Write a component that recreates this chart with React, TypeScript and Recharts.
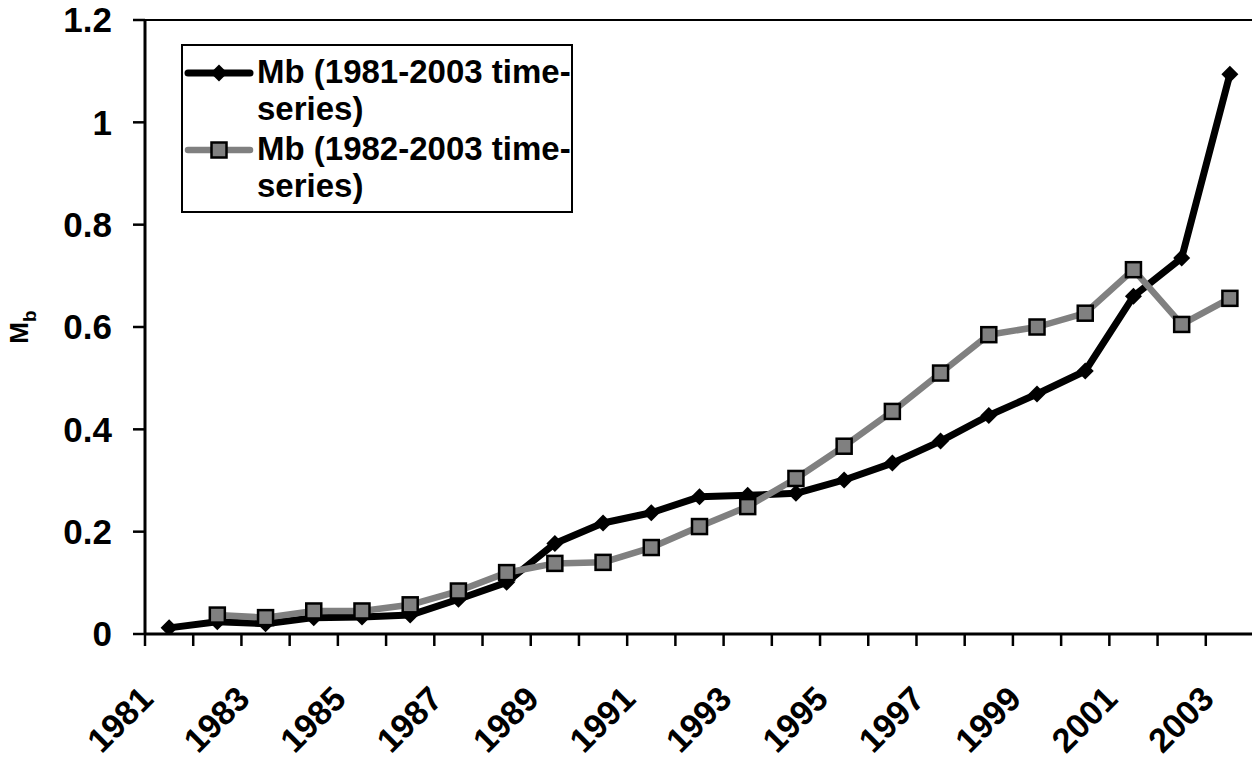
import React from "react";
import { LineChart, Line, XAxis, YAxis, Legend, ReferenceLine } from "recharts";

const FONT = "'Liberation Sans', Arial, Helvetica, sans-serif";

const years = [1981, 1982, 1983, 1984, 1985, 1986, 1987, 1988, 1989, 1990, 1991, 1992, 1993, 1994, 1995, 1996, 1997, 1998, 1999, 2000, 2001, 2002, 2003];
// Mb, 1981-2003 time-series
const mb1981Series = [0.012, 0.024, 0.02, 0.032, 0.033, 0.037, 0.068, 0.101, 0.177, 0.217, 0.237, 0.268, 0.271, 0.275, 0.301, 0.334, 0.377, 0.427, 0.469, 0.514, 0.66, 0.735, 1.094];
// Mb, 1982-2003 time-series (first value is 1982)
const mb1982Series = [0.037, 0.032, 0.045, 0.045, 0.057, 0.084, 0.12, 0.138, 0.14, 0.169, 0.21, 0.249, 0.304, 0.367, 0.435, 0.51, 0.585, 0.6, 0.627, 0.712, 0.605, 0.656];

const yTicks = [0, 0.2, 0.4, 0.6, 0.8, 1, 1.2];
const labelYears = [1981, 1983, 1985, 1987, 1989, 1991, 1993, 1995, 1997, 1999, 2001, 2003];
const boundaryTicks = [...years.map((y) => y - 0.5), 2003.5];

const legendLines1 = ["Mb (1981-2003 time-", "series)"];
const legendLines2 = ["Mb (1982-2003 time-", "series)"];

const data = years.map((year, i) => ({
  year,
  s81: mb1981Series[i],
  s82: i === 0 ? null : mb1982Series[i - 1],
}));

const GRAY = "#808080";

const diamondPath = (cx: number, cy: number, r: number) =>
  `M${cx},${cy - r} L${cx + r},${cy} L${cx},${cy + r} L${cx - r},${cy} Z`;

const DiamondDot = (props: any) => {
  const { cx, cy, index } = props;
  if (cx == null || cy == null) return <g key={`d-${index}`} />;
  return <path key={`d-${index}`} d={diamondPath(cx, cy, 8.5)} fill="#000" />;
};

const SquareDot = (props: any) => {
  const { cx, cy, index, value } = props;
  if (cx == null || cy == null || value == null) return <g key={`s-${index}`} />;
  return (
    <rect key={`s-${index}`} x={cx - 7.5} y={cy - 7.5} width={15} height={15} fill={GRAY} stroke="#000" strokeWidth={2.5} />
  );
};

const EmptyTick = () => <g />;

const YearTick = (props: any) => {
  const { x, y, payload } = props;
  return (
    <g transform={`translate(${x - 14},${y + 66})`}>
      <text x={0} y={0} textAnchor="end" transform="rotate(-45)" fontSize={34} fontWeight="bold" fontFamily={FONT} fill="#000">
        {payload.value}
      </text>
    </g>
  );
};

const YLabel = (props: any) => {
  const vb = props.viewBox || { x: 0, y: 20, width: 145, height: 614 };
  const cx = vb.x + 28;
  const cy = vb.y + vb.height / 2;
  return (
    <text x={cx} y={cy} transform={`rotate(-90, ${cx}, ${cy})`} textAnchor="middle" fontFamily={FONT} fontWeight="bold" fontSize={26} fill="#000">
      M<tspan fontSize={19} dy={8}>b</tspan>
    </text>
  );
};

const LegendBox = () => {
  const entry = (lines: string[], top: number, kind: "black" | "gray") => (
    <g key={kind}>
      <line x1={7} x2={69} y1={top} y2={top} stroke={kind === "black" ? "#000" : GRAY} strokeWidth={kind === "black" ? 7 : 6.5} strokeLinecap="round" />
      {kind === "black" ? (
        <path d={diamondPath(38, top, 8.5)} fill="#000" />
      ) : (
        <rect x={30.5} y={top - 7.5} width={15} height={15} fill={GRAY} stroke="#000" strokeWidth={2.5} />
      )}
      {lines.map((t, i) => (
        <text key={i} x={76} y={top + 10 + i * 37} fontFamily={FONT} fontWeight="bold" fontSize={33} fill="#000">
          {t}
        </text>
      ))}
    </g>
  );
  return (
    <svg width={392} height={169} style={{ display: "block" }}>
      <rect x={1} y={1} width={390} height={167} fill="#fff" stroke="#000" strokeWidth={2} />
      {entry(legendLines1, 29, "black")}
      {entry(legendLines2, 106, "gray")}
    </svg>
  );
};

export default function App() {
  return (
    <div style={{ position: "absolute", left: 0, top: 0, width: 1252, height: 763, overflow: "hidden", background: "#fff" }}>
      <LineChart width={1262} height={763} data={data} margin={{ top: 20, right: 8, bottom: 127, left: 0 }}>
        <XAxis
          xAxisId={0}
          dataKey="year"
          type="number"
          domain={[1980.5, 2003.5]}
          ticks={boundaryTicks}
          interval={0}
          tick={<EmptyTick />}
          height={1}
          tickSize={12}
          axisLine={{ stroke: "#000", strokeWidth: 3 }}
          tickLine={{ stroke: "#000", strokeWidth: 2.5 }}
          allowDataOverflow
        />
        <XAxis
          xAxisId="labels"
          dataKey="year"
          type="number"
          domain={[1980.5, 2003.5]}
          ticks={labelYears}
          interval={0}
          height={1}
          tickSize={0}
          tickMargin={0}
          axisLine={false}
          tickLine={false}
          tick={<YearTick />}
          allowDataOverflow
        />
        <YAxis
          domain={[0, 1.2]}
          ticks={yTicks}
          interval={0}
          width={145}
          tickSize={12}
          tickMargin={21}
          axisLine={{ stroke: "#000", strokeWidth: 3 }}
          tickLine={{ stroke: "#000", strokeWidth: 2.5 }}
          tick={{ fontSize: 35, fontWeight: "bold", fill: "#000", fontFamily: FONT }}
          label={<YLabel />}
          allowDataOverflow
        />
        <ReferenceLine y={1.2} stroke="#000" strokeWidth={2} />
        <Legend
          layout="vertical"
          align="center"
          verticalAlign="middle"
          content={<LegendBox />}
          wrapperStyle={{ left: 181, top: 44, width: 392, height: 169 }}
        />
        <Line
          name="Mb (1981-2003 time-series)"
          dataKey="s81"
          stroke="#000"
          strokeWidth={7}
          strokeLinejoin="round"
          dot={(p: any) => <DiamondDot {...p} />}
          activeDot={false}
          isAnimationActive={false}
        />
        <Line
          name="Mb (1982-2003 time-series)"
          dataKey="s82"
          stroke={GRAY}
          strokeWidth={6.5}
          strokeLinejoin="round"
          dot={(p: any) => <SquareDot {...p} />}
          activeDot={false}
          isAnimationActive={false}
        />
      </LineChart>
    </div>
  );
}
